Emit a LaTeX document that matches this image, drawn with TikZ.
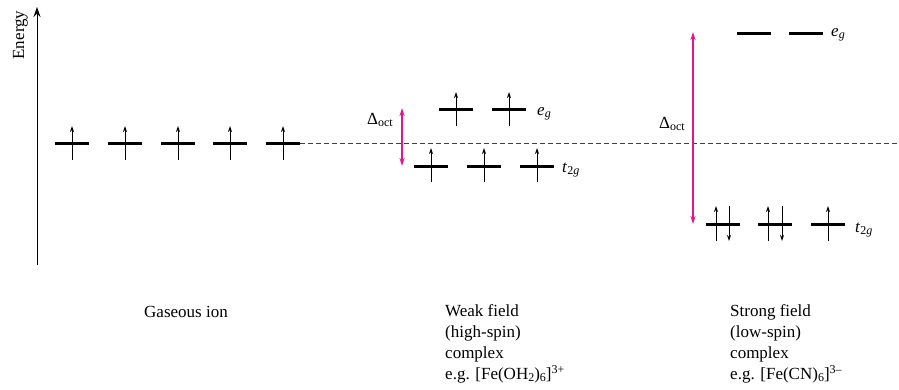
\documentclass[tikz,border=0pt]{standalone}
\usepackage{fontspec}
\setmainfont{Liberation Serif}
\usetikzlibrary{arrows.meta}
\definecolor{pinkarrow}{RGB}{230,20,140}
\newcommand\subx[1]{\raisebox{-0.35ex}{\fontsize{12}{12}\selectfont #1}}
\newcommand\supx[1]{\raisebox{0.75ex}{\fontsize{12}{12}\selectfont #1}}
\begin{document}
\begin{tikzpicture}[x=1pt,y=-1pt,
  level/.style={line width=3pt},
  spinup/.style={line width=1pt,-{Stealth[length=6pt,width=4pt]}},
  split/.style={pinkarrow,line width=1.3pt,{Stealth[length=8pt,width=5pt]}-{Stealth[length=8pt,width=5pt]}},
  lbl/.style={font=\fontsize{17}{20.7}\selectfont,inner sep=0pt},
  captxt/.style={font=\fontsize{17}{20.7}\selectfont,inner sep=0pt,align=left,anchor=base west}]
\useasboundingbox (0,0) rectangle (899,389);
% energy axis
\coordinate (ax0) at (37,265);
\coordinate (ax1) at (37,7);
\draw[line width=1pt,-{Stealth[length=10pt,width=7pt]}] (ax0) -- (ax1);
\node[lbl,rotate=90,anchor=base] (energy) at (24,35) {Energy};
% baseline dashed
\draw[line width=0.7pt,dash pattern=on 5pt off 3pt,black!75] (300,143) -- (899,143);
% gaseous ion
\foreach \x in {72,125,178,230,283}{
  \draw[level] (\x-17,143) -- (\x+17,143);
  \draw[spinup] (\x,160) -- (\x,126);
}
% weak field eg
\foreach \x in {456,509}{
  \draw[level] (\x-17,109) -- (\x+17,109);
  \draw[spinup] (\x,126) -- (\x,92);
}
\node[lbl,anchor=base west] (weg) at (537,115) {\textit{e}\subx{\textit{g}}};
% weak field t2g
\foreach \x in {431,484,537}{
  \draw[level] (\x-17,166) -- (\x+17,166);
  \draw[spinup] (\x,182) -- (\x,148);
}
\node[lbl,anchor=base west] (wt) at (562,172) {\textit{t}\subx{2\textit{g}}};
\draw[split] (402,108) -- (402,166);
\node[lbl,anchor=base west] (wdelta) at (367,124) {Δ\subx{oct}};
% strong field eg
\foreach \x in {754,806}{
  \draw[level] (\x-17,33) -- (\x+17,33);
}
\node[lbl,anchor=base west] (seg) at (831,36) {\textit{e}\subx{\textit{g}}};
% strong field t2g
\foreach \x in {723,775,828}{
  \draw[level] (\x-17,224) -- (\x+17,224);
}
\draw[spinup] (716,241) -- (716,206);
\draw[spinup] (729,206) -- (729,241);
\draw[spinup] (768,241) -- (768,206);
\draw[spinup] (782,206) -- (782,241);
\draw[spinup] (828,241) -- (828,206);
\node[lbl,anchor=base west] (st) at (855,232) {\textit{t}\subx{2\textit{g}}};
\draw[split] (693,32) -- (693,224);
\node[lbl,anchor=base west] (sdelta) at (659,128) {Δ\subx{oct}};
% captions
\node[lbl,anchor=base] (gas) at (186,317) {Gaseous ion};
\node[captxt] (weak) at (445,379) {Weak field\\(high-spin)\\complex\\e.g. [Fe(OH\subx{2})\subx{6}]\supx{3+}};
\node[captxt] (strong) at (730,379) {Strong field\\(low-spin)\\complex\\e.g. [Fe(CN)\subx{6}]\supx{3–}};
\end{tikzpicture}
\end{document}
